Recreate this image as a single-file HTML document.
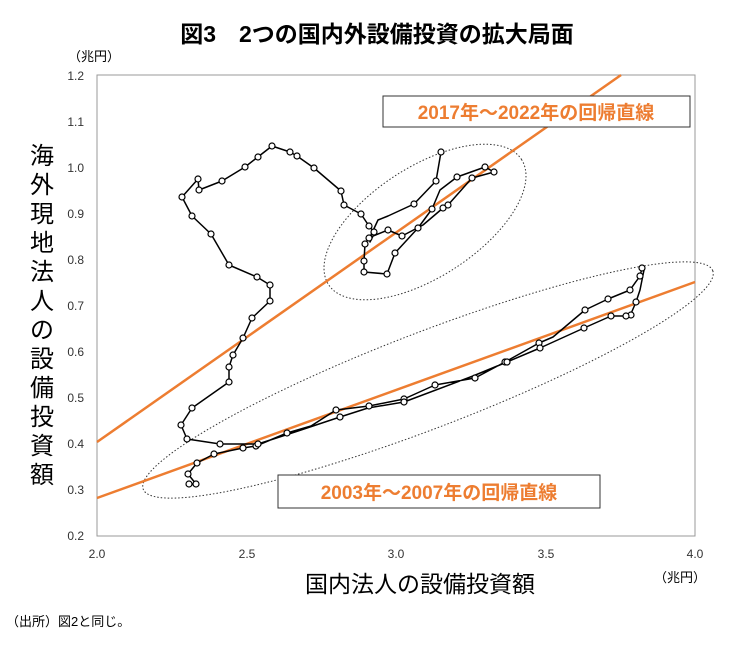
<!DOCTYPE html>
<html><head><meta charset="utf-8"><style>
body{margin:0;background:#fff;width:755px;height:648px;overflow:hidden;font-family:"Liberation Sans","Noto Sans CJK JP",sans-serif}
</style></head><body>
<svg width="755" height="648" viewBox="0 0 755 648" xmlns="http://www.w3.org/2000/svg" font-family="Liberation Sans, Noto Sans CJK JP, sans-serif">
<text x="377" y="42" text-anchor="middle" font-size="23" font-weight="bold">図3　2つの国内外設備投資の拡大局面</text>
<text x="68" y="61" font-size="13">（兆円）</text>
<rect x="97" y="75" width="598" height="461" fill="none" stroke="#999" stroke-width="1"/>
<g font-size="12" fill="#333" text-anchor="end">
<text x="84" y="80">1.2</text><text x="84" y="126">1.1</text><text x="84" y="172">1.0</text><text x="84" y="218">0.9</text><text x="84" y="264">0.8</text><text x="84" y="310">0.7</text><text x="84" y="356">0.6</text><text x="84" y="402">0.5</text><text x="84" y="448">0.4</text><text x="84" y="494">0.3</text><text x="84" y="540">0.2</text>
</g>
<g font-size="12" fill="#333" text-anchor="middle">
<text x="97" y="558">2.0</text><text x="247" y="558">2.5</text><text x="396" y="558">3.0</text><text x="546" y="558">3.5</text><text x="695" y="558">4.0</text>
</g>
<text x="654" y="582" font-size="13">（兆円）</text>
<g font-size="24" text-anchor="middle">
<text x="42" y="164">海</text><text x="42" y="193">外</text><text x="42" y="222">現</text><text x="42" y="251">地</text><text x="42" y="280">法</text><text x="42" y="309">人</text><text x="42" y="338">の</text><text x="42" y="367">設</text><text x="42" y="396">備</text><text x="42" y="425">投</text><text x="42" y="454">資</text><text x="42" y="483">額</text>
</g>
<text x="420" y="592" font-size="23" text-anchor="middle">国内法人の設備投資額</text>
<text x="6" y="626" font-size="13">（出所）図2と同じ。</text>
<ellipse cx="425" cy="222" rx="115" ry="55" transform="rotate(-33 425 222)" fill="none" stroke="#333" stroke-dasharray="1.5,2"/>
<ellipse cx="428" cy="380" rx="305" ry="48" transform="rotate(-21 428 380)" fill="none" stroke="#333" stroke-dasharray="1.5,2"/>
<line x1="97" y1="442" x2="621" y2="75" stroke="#ED7D31" stroke-width="2.5"/>
<line x1="97" y1="498" x2="695" y2="282" stroke="#ED7D31" stroke-width="2.5"/>
<polyline id="p" fill="none" stroke="#000" stroke-width="1.5" stroke-linejoin="round" points="189,484 196,484 188,474 197,463 214,454 243,448 256,446 287,433 311,426 336,410 369,406 404,399 435,385 475,378 505,362 539,343 553,337 585,310 608,299 630,290 640,276 642,268 644,270 640,290 636,302 630,316 631,315 626,316 611,316 584,328 540,348 507,362 473,376 404,402 368,408 340,417 298,431 258,444 220,444 187,439 181,425 192,408 229,382 229,367 233,355 243,338 252,318 270,301 270,285 257,277 229,265 211,234 192,216 182,197 198,179 199,190 222,181 245,167 272,146 290,152 297,156 314,168 341,191 344,205 361,214 369,226 374,232 369,238 365,244 364,261 364,272 387,274 395,253 418,228 432,209 440,190 457,177 485,167 494,172 472,178 448,205 443,208 423,225 402,236 388,230 373,236 370,242 371,235 378,220 388,216 414,204 436,181 441,152"/>
<g fill="#fff" stroke="#000" stroke-width="1.2">
<circle cx="189" cy="484" r="3"/><circle cx="196" cy="484" r="3"/><circle cx="188" cy="474" r="3"/><circle cx="197" cy="463" r="3"/><circle cx="214" cy="454" r="3"/><circle cx="243" cy="448" r="3"/><circle cx="256" cy="446" r="3"/><circle cx="287" cy="433" r="3"/><circle cx="336" cy="410" r="3"/><circle cx="369" cy="406" r="3"/><circle cx="404" cy="399" r="3"/><circle cx="435" cy="385" r="3"/><circle cx="475" cy="378" r="3"/><circle cx="505" cy="362" r="3"/><circle cx="539" cy="343" r="3"/><circle cx="585" cy="310" r="3"/><circle cx="608" cy="299" r="3"/><circle cx="630" cy="290" r="3"/><circle cx="640" cy="276" r="3"/><circle cx="642" cy="268" r="3"/><circle cx="636" cy="302" r="3"/><circle cx="631" cy="315" r="3"/><circle cx="626" cy="316" r="3"/><circle cx="611" cy="316" r="3"/><circle cx="584" cy="328" r="3"/><circle cx="540" cy="348" r="3"/><circle cx="507" cy="362" r="3"/><circle cx="404" cy="402" r="3"/><circle cx="340" cy="417" r="3"/><circle cx="258" cy="444" r="3"/><circle cx="220" cy="444" r="3"/><circle cx="187" cy="439" r="3"/><circle cx="181" cy="425" r="3"/><circle cx="192" cy="408" r="3"/><circle cx="229" cy="382" r="3"/><circle cx="229" cy="367" r="3"/><circle cx="233" cy="355" r="3"/><circle cx="243" cy="338" r="3"/><circle cx="252" cy="318" r="3"/><circle cx="270" cy="301" r="3"/><circle cx="270" cy="285" r="3"/><circle cx="257" cy="277" r="3"/><circle cx="229" cy="265" r="3"/><circle cx="211" cy="234" r="3"/><circle cx="192" cy="216" r="3"/><circle cx="182" cy="197" r="3"/><circle cx="198" cy="179" r="3"/><circle cx="199" cy="190" r="3"/><circle cx="222" cy="181" r="3"/><circle cx="245" cy="167" r="3"/><circle cx="258" cy="157" r="3"/><circle cx="272" cy="146" r="3"/><circle cx="290" cy="152" r="3"/><circle cx="297" cy="156" r="3"/><circle cx="314" cy="168" r="3"/><circle cx="341" cy="191" r="3"/><circle cx="344" cy="205" r="3"/><circle cx="361" cy="214" r="3"/><circle cx="369" cy="226" r="3"/><circle cx="374" cy="232" r="3"/><circle cx="369" cy="238" r="3"/><circle cx="365" cy="244" r="3"/><circle cx="364" cy="261" r="3"/><circle cx="364" cy="272" r="3"/><circle cx="387" cy="274" r="3"/><circle cx="395" cy="253" r="3"/><circle cx="418" cy="228" r="3"/><circle cx="432" cy="209" r="3"/><circle cx="457" cy="177" r="3"/><circle cx="485" cy="167" r="3"/><circle cx="494" cy="172" r="3"/><circle cx="472" cy="178" r="3"/><circle cx="448" cy="205" r="3"/><circle cx="443" cy="208" r="3"/><circle cx="402" cy="236" r="3"/><circle cx="388" cy="230" r="3"/><circle cx="414" cy="204" r="3"/><circle cx="436" cy="181" r="3"/><circle cx="441" cy="152" r="3"/>
</g>
<rect x="383" y="96" width="307" height="31" fill="#fff" stroke="#333" stroke-width="1"/>
<text x="536" y="119" text-anchor="middle" font-size="19" font-weight="bold" fill="#ED7D31">2017年～2022年の回帰直線</text>
<rect x="278" y="475" width="322" height="33" fill="#fff" stroke="#333" stroke-width="1"/>
<text x="439" y="499" text-anchor="middle" font-size="19" font-weight="bold" fill="#ED7D31">2003年～2007年の回帰直線</text>
</svg>
</body></html>
